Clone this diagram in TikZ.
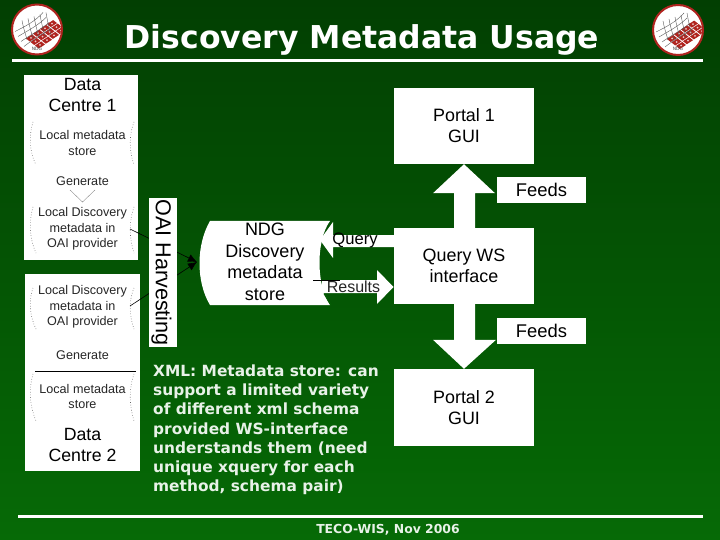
\documentclass[tikz,border=0pt]{standalone}
\usepackage{fontspec}
\setmainfont{Liberation Sans}
\newfontfamily\slidefont{DejaVu Sans}
\usepackage{xcolor}
\usetikzlibrary{arrows.meta}
\definecolor{bgtop}{HTML}{023F02}
\definecolor{bgbot}{HTML}{066A06}
\definecolor{logored}{HTML}{B0241F}
\definecolor{bodytxt}{HTML}{E8F2E8}

% one round logo, centred on #1,#2
\newcommand{\ndglogo}[3]{
  \begin{scope}[shift={(#1,#2)}]
    \fill[white] (0,0) circle (25);
    \begin{scope}
      \clip (0,0) circle (24);
      \foreach \u in {0,1,2,3}
        \foreach \v in {0,1,2}
          \fill[logored] ({-11+7*\u+4.5*\v},{9-4.8*\u+3.5*\v}) -- ++(6.2,-4) -- ++(3.8,3) -- ++(-6.2,4) -- cycle;
      \foreach \u in {0,1,2,3}
        \foreach \v in {0,1,2}
          \fill[white!75!logored] ({-6+7*\u+4.5*\v},{8.5-4.8*\u+3.5*\v}) circle (1);
      \foreach \k in {0,1,2,3}
        \draw[black!65,line width=.4] ({-22+3*\k},{2+5*\k}) .. controls ({-12+3*\k},{-3+4*\k}) and ({-2+3*\k},{-8+4*\k}) .. ({6+3*\k},{-17+5*\k});
      \foreach \k in {0,1,2,3,4}
        \draw[black!65,line width=.4] ({-15+6*\k},{-9-2*\k}) .. controls ({-14+6*\k},{-3-2*\k}) and ({-12+6*\k},{3-\k}) .. ({-10+6*\k},{10-\k});
    \end{scope}
    \node[font=\slidefont\fontsize{4.5}{5}\selectfont,text=black!70,inner sep=0] (#3) at (0,19) {NDG};
    \draw[logored,line width=2] (0,0) circle (25);
  \end{scope}
}

\begin{document}
\begin{tikzpicture}[x=1pt,y=-1pt,
    whitebox/.style={fill=white,text=black,inner sep=0,align=center,font=\fontsize{17.9}{21}\selectfont},
    smalltxt/.style={text=black!85,inner sep=0,align=center,font=\fontsize{12.6}{15.3}\selectfont},
    bigtxt/.style={text=black,inner sep=0,align=center,font=\fontsize{17.7}{21.5}\selectfont},
    drumline/.style={black!60,dotted,line width=.6},
    linkline/.style={black,line width=.6}]
  \useasboundingbox (0,0) rectangle (720,540);
  \shade[top color=bgtop,bottom color=bgbot] (0,0) rectangle (720,540);

  \ndglogo{37}{29.5}{logoa}
  \ndglogo{678}{30}{logob}

  \node[text=white,inner sep=0,font=\slidefont\bfseries\fontsize{31.5}{34}\selectfont] (title) at (362,39.5) {Discovery Metadata Usage};
  \fill[white] (12,59) rectangle (703,62);
  \fill[white] (18,515) rectangle (703,517.5);
  \node[text=bodytxt,inner sep=0,font=\slidefont\bfseries\fontsize{12.4}{14}\selectfont] (footer) at (388,529.5) {TECO-WIS, Nov 2006};

  % data centres
  \node[whitebox,minimum width=114,minimum height=185] (dcone) at (81,167.5) {};
  \node[whitebox,minimum width=115,minimum height=197] (dctwo) at (82.5,372.5) {};
  \node[bigtxt] (dconename) at (82.5,95) {Data\\Centre 1};
  \node[bigtxt] (dctwoname) at (82.5,445) {Data\\Centre 2};
  \node[smalltxt] (storeone) at (82.5,143) {Local metadata\\store};
  \node[smalltxt] (genone) at (82.5,181.5) {Generate};
  \node[smalltxt] (provone) at (82.5,229) {Local Discovery\\metadata in\\OAI provider};
  \node[smalltxt] (provtwo) at (82.5,307) {Local Discovery\\metadata in\\OAI provider};
  \node[smalltxt] (gentwo) at (82.5,355.5) {Generate};
  \node[smalltxt] (storetwo) at (82.5,396.5) {Local metadata\\store};
  \foreach \ya/\yb/\yc in {122/143/165, 207/229/253, 288/307/329, 374/396/421} {
    \draw[drumline] (33,\ya) .. controls (29,\yb-8) and (29,\yb+8) .. (36,\yc);
    \draw[drumline] (134,\ya) .. controls (129,\yb-8) and (129,\yb+8) .. (134,\yc);
  }
  \draw[black!45,line width=.4] (70,190) -- (82.5,202) -- (95,190);
  \draw[linkline] (35,371) -- (75,371);
  \draw[black!35,linkline] (75,371) -- (90,371);
  \draw[linkline] (90,371) -- (136,371);

  % NDG store and its links
  \coordinate (hitpt) at (197,262);
  \fill[white] (210,221) .. controls (196,245) and (196,282) .. (210,305) -- (330,305)
    .. controls (316,285) and (316,240) .. (330,221) -- cycle;
  \node[bigtxt,font=\fontsize{18}{21.5}\selectfont] (ndgstore) at (265,262) {NDG\\Discovery\\metadata\\store};
  \draw[linkline,-{Latex[length=9pt,width=8pt]}] (130,229) -- (hitpt);
  \draw[linkline,-{Latex[length=9pt,width=8pt]}] (130,306) -- (hitpt);
  \node[fill=white,inner sep=0,minimum width=28,minimum height=149] (oaibox) at (163,272.5) {};
  \node[text=black,inner sep=0,rotate=-90,font=\fontsize{21.6}{24}\selectfont] (oailabel) at (161.5,272.5) {OAI Harvesting};

  % portals and query interface
  \node[whitebox,minimum width=140,minimum height=76] (portalone) at (464,126) {Portal 1\\GUI};
  \node[whitebox,minimum width=140,minimum height=76] (wsbox) at (464,266) {Query WS\\interface};
  \node[whitebox,minimum width=140,minimum height=77] (portaltwo) at (464,407.5) {Portal 2\\GUI};
  \node[whitebox,font=\fontsize{18.4}{21}\selectfont,minimum width=89,minimum height=26] (feedsone) at (541.5,190) {Feeds};
  \node[whitebox,font=\fontsize{18.4}{21}\selectfont,minimum width=89,minimum height=26] (feedstwo) at (541.5,331) {Feeds};
  \fill[white] (portalone.south) -- ++(31,29) -- ++(-20,0) -- ++(0,35) -- ++(-21,0) -- ++(0,-35) -- ++(-21,0) -- cycle;
  \fill[white] (portaltwo.north) -- ++(32,-29) -- ++(-21,0) -- ++(0,-36) -- ++(-21,0) -- ++(0,36) -- ++(-21,0) -- cycle;

  % query and results arrows
  \fill[white] (wsbox.west |- 0,235) -- (333,235) -- (333,222) -- (320,240) -- (333,258) -- (333,247) -- (wsbox.west |- 0,247) -- cycle;
  \fill[white] (322,280) -- (377,280) -- (377,270) -- (393.5,287) -- (377,304) -- (377,293) -- (322,293) -- cycle;
  \draw[bgbot!70!bgtop,line width=1.2] (324,293.5) -- (331,305);
  \draw[linkline] (313,280) -- (340,280);
  \node[text=black,inner sep=0,font=\fontsize{16.6}{18}\selectfont] (querylbl) at (355,240.5) {Query};
  \node[text=black!85,inner sep=0,font=\fontsize{16}{18}\selectfont] (resultslbl) at (353.5,286.5) {Results};

  \node[text=bodytxt,anchor=north west,inner sep=0,align=left,font=\slidefont\bfseries\fontsize{15.4}{19.2}\selectfont] (note) at (153,364.5)
    {XML: Metadata store: can\\support a limited variety\\of different xml schema\\provided WS-interface\\understands them (need\\unique xquery for each\\method, schema pair)};
\end{tikzpicture}
\end{document}
